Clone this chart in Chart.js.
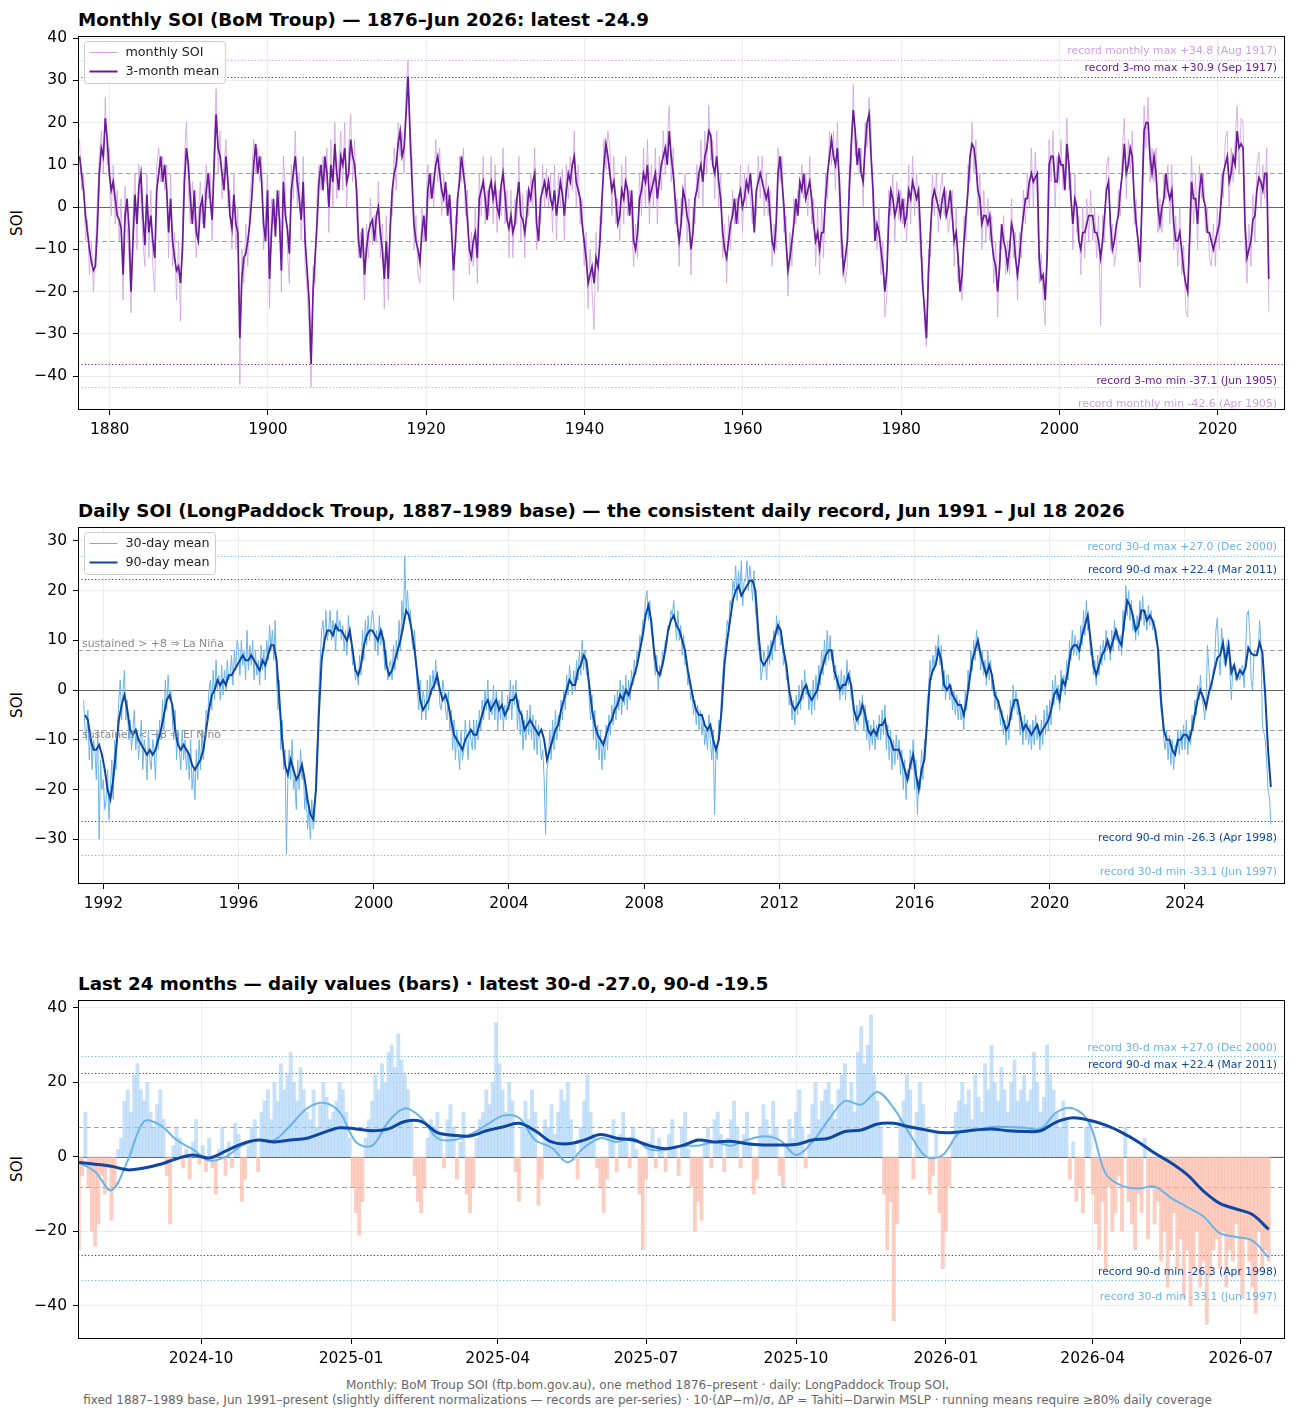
<!DOCTYPE html>
<html>
<head>
<meta charset="utf-8">
<script src="https://cdn.jsdelivr.net/npm/chart.js"></script>
<style>
  body { margin: 0; background: #fff; width: 1295px; height: 1418px; position: relative; overflow: hidden;
         font-family: "DejaVu Sans", sans-serif; }
  canvas { position: absolute; left: 0; }
  .title { position: absolute; left: 78px; font-weight: bold; font-size: 18.3px; line-height: 22px; white-space: nowrap; color: #000; }
  .ylab { position: absolute; left: 17px; font-size: 15px; transform: translate(-50%, -50%) rotate(-90deg); white-space: nowrap; }
  .foot { position: absolute; top: 1378px; left: 0; width: 1295px; text-align: center; font-size: 12px; line-height: 14.5px; color: #666; }
</style>
</head>
<body>
<div class="title" style="top:9px">Monthly SOI (BoM Troup) — 1876–Jun 2026: latest -24.9</div>
<div class="title" style="top:500px">Daily SOI (LongPaddock Troup, 1887–1989 base) — the consistent daily record, Jun 1991 – Jul 18 2026</div>
<div class="title" style="top:973px">Last 24 months — daily values (bars) · latest 30-d -27.0, 90-d -19.5</div>
<div class="ylab" style="top:223px">SOI</div>
<div class="ylab" style="top:705px">SOI</div>
<div class="ylab" style="top:1169px">SOI</div>
<canvas id="c1" width="1295" height="424" style="top:16px"></canvas>
<canvas id="c2" width="1295" height="407" style="top:507px"></canvas>
<canvas id="c3" width="1295" height="389" style="top:980px"></canvas>
<div class="foot">Monthly: BoM Troup SOI (ftp.bom.gov.au), one method 1876–present · daily: LongPaddock Troup SOI,<br>fixed 1887–1989 base, Jun 1991–present (slightly different normalizations — records are per-series) · 10·(ΔP−m)/σ, ΔP = Tahiti−Darwin MSLP · running means require ≥80% daily coverage</div>
<script>
// ---- panel 1: BoM monthly SOI, one value per quarter ----
const P1_START = 1876.2;   // year of first sample
const P1_STEP = 0.25;      // years between samples
const SOI_3MO = [
  12,8,4,-2, -6,-10,-13,-15, -14,-5,8,14, 12,21,16,8,
  4,6,2,-2, -3,-5,-16,-2, 2,-5,-20,-8, 3,-4,5,8, -2,-9,3,-6, -2,-8,-12,4,
  8,12,6,10, 4,-6,2,-8, -12,-15,-14,-18, -10,6,14,10, 2,-4,4,-6,
  -8,0,2,-5, 4,8,2,-3, 10,22,14,12, 8,4,12,6, -2,-5,3,-4,
  -6,-31,-17,-12, -11,-8,-4,2, 10,15,8,12, 6,-4,-8,4,
  -17,-6,2,-7, 4,-3,-15,6, -2,-5,-11,4, 8,12,6,2, -3,6,-8,-15,
  -22,-37.1,-20,-12, -4,6,10,4, 12,8,0,10, 6,15,8,4, 12,10,14,6,
  8,16,12,10, 4,-8,-12,-5, -16,-10,-6,-4, -3,-8,-2,0, -6,-10,-17,-8,
  -17,-5,4,8, 10,15,18,12, 14,22,30.9,18, 6,-4,-8,-10, -13,-6,-2,-8,
  4,8,2,6, 10,12,8,4, 2,6,-2,3, -6,-15,-8,2, 6,12,8,4,
  -3,-10,-12,-8, -6,-12,2,4, 6,2,-3,4, 6,2,5,0, -2,5,8,3,
  -3,-5,-2,-6, -4,2,6,-2, -3,-6,-2,4, 2,6,8,-4, -8,2,4,6,
  3,6,2,0, 4,-2,2,6, 3,-2,4,8, 6,10,12,6, 4,2,-4,-8,
  -12,-18,-16,-14, -18,-12,-14,-8, 2,10,15,12, 8,4,6,2, -4,-2,4,2,
  6,4,-2,4, -8,-10,-6,2, 4,8,6,10, 2,4,6,8, 2,6,10,12,
  14,10,18,12, 8,2,-4,-8, -4,4,2,-2, -4,-10,-6,2, 4,8,10,6,
  12,14,18,17, 10,8,12,6, 2,-6,-10,-12, -8,-4,-2,2, -4,2,4,0,
  2,6,4,8, 2,-6,4,6, 8,6,4,2, 4,-2,-8,-10, -4,8,12,6,
  0,-8,-15,-12, -8,-4,2,-2, 6,4,8,2, 4,6,2,-4, -8,-6,-10,-6,
  -6,2,8,12, 16,12,10,14, 6,-6,-15,-12, -8,4,15,23, 18,10,14,8,
  6,14,20,22, 12,4,-8,-4, -6,-10,-14,-20, -15,-2,4,2, -2,0,3,-2,
  2,-4,-2,4, 2,6,4,2, 4,-6,-18,-24, -31,-16,-6,2, 4,2,0,-2,
  2,4,-2,0, 4,-2,-8,-6, -12,-20,-16,-8, -2,4,12,15, 14,10,4,2,
  -4,-2,-2,-4, -2,-8,-12,-14, -20,-14,-4,-8, -10,-14,-10,-4, -6,-12,-16,-12,
  -6,-2,2,2, 6,8,6,7, 8,-12,-17,-16, -22,-12,10,12, 12,6,6,12,
  10,10,4,15, 10,2,-4,2, 0,-8,-10,-6, -6,-4,-2,-2, -2,-6,-6,-8,
  -12,-8,-2,4, 6,-4,-10,-8, -4,-2,4,8, 15,8,10,14, 12,2,-4,-8,
  -13,2,18,20, 20,12,8,12, 8,0,-4,0, 2,8,4,2, 4,-4,-8,-8,
  -6,-10,-15,-18, -20,-8,6,2, 2,-4,4,8, 2,0,-6,-6, -8,-10,-8,-6,
  -4,2,8,10, 12,6,8,12, 10,18,14,15, 14,-4,-12,-10, -8,-3,-2,4,
  7,6,4,8, 8,-17
];
const SOI_MONTHLY = [
  16,4,8,-8, -3,-16,-8,-20, -10,2,12,18, 8,26,10,14,
  -2,10,-4,4, -8,2,-22,5, -4,-12,-25,-2, 8,-10,10,2, -8,-14,8,-12, 4,-14,-20,10,
  14,6,12,4, 10,-12,8,-14, -6,-22,-8,-27, -4,12,20,4, -4,6,-2,-12,
  -2,6,-4,2, 10,2,8,-8, 16,28,8,18, 2,10,16,0, 4,-10,8,-10,
  0,-42,-10,-18, -4,-14,2,8, 16,8,14,6, 12,-10,-2,8,
  -24,2,-4,0, -2,4,-20,12, 4,-10,-18,10, 2,18,0,8, -8,12,-14,-20,
  -28,-42.6,-14,-18, 2,10,4,12, 6,14,-6,16, 0,20,2,10, 18,4,20,0,
  14,22,6,16, -2,-12,-6,-10, -22,-4,-12,2, -9,-2,-8,6, -12,-4,-24,-2,
  -22,0,-2,14, 4,20,12,18, 8,28,34.8,12, 12,-10,-2,-16, -18,0,-8,-2,
  10,2,8,0, 16,6,14,-2, 8,0,4,-4, 0,-22,-2,-4, 12,6,14,-2,
  4,-16,-6,-14, 0,-18,8,-2, 12,-4,4,-2, 12,-4,10,-6, 4,-2,14,-4,
  4,-12,4,-12, 2,-4,12,-8, 3,-12,4,-2, 8,0,14,-10, -2,-4,10,0,
  9,0,8,-6, 10,-8,8,0, 9,-8,10,2, 12,4,18,0, 10,-4,2,-14,
  -6,-24,-10,-20, -29,-6,-20,-2, -4,16,9,18, 14,-2,12,-4, 2,-8,10,-4,
  12,-2,4,-2, -14,-4,-12,8, -2,14,0,16, -4,10,0,14, -4,12,4,18,
  8,16,24,6, 14,-4,2,-14, 2,-2,8,-8, 2,-16,0,-4, 10,2,16,0,
  18,8,24,11, 16,2,18,0, 8,-12,-4,-18, -2,-10,4,-4, 2,-4,10,-6,
  8,0,10,2, -4,0,-2,12, 2,12,-2,8, -2,4,-14,-4, -10,14,6,12,
  -6,-2,-21,-6, -14,2,-4,4, 0,10,2,8, -2,12,-4,2, -14,0,-16,0,
  -12,8,2,18, 10,18,4,20, 0,-12,-9,-18, -14,10,9,29, 12,16,8,14,
  0,20,14,26, 18,-2,-2,-10, 0,-16,-8,-26, -21,4,-2,8, -8,6,-3,4,
  -4,2,-8,10, -4,12,-2,8, -2,-12,-12,-28, -33,-10,-12,8, -2,8,-6,4,
  8,-2,4,-6, -2,4,-14,0, -18,-14,-22,-2, -8,10,6,20, 8,16,-2,8,
  -10,4,-8,2, -8,-2,-18,-8, -26,-8,-10,-2, -16,-8,-16,2, -12,-6,-22,-6,
  -12,4,-4,8, 0,14,0,13, 2,-18,-11,-22, -28,-6,16,6, 18,0,12,6,
  16,4,10,21, 4,8,-10,8, -6,-2,-16,0, -12,2,-8,4, -8,0,-12,-2,
  -28,-2,-8,10, 12,-10,-4,-14, -10,4,-2,14, 21,2,16,8, 18,-4,2,-14,
  -19,8,24,14, 26,6,14,6, 14,-6,2,-6, 8,2,10,-4, 10,-10,-2,-14,
  0,-16,-9,-24, -26,-2,12,-4, 8,-10,10,2, 8,-6,0,-12, -14,-4,-14,0,
  -10,8,2,16, 18,0,14,6, 16,24,8,21, 20,-10,-18,-4, -14,3,-8,10,
  13,0,10,2, 14,-24.9
];
const P1_XTICKS = [1880, 1900, 1920, 1940, 1960, 1980, 2000, 2020];
const P1_YTICKS = [-40, -30, -20, -10, 0, 10, 20, 30, 40];
const REC_MON_MAX = 34.8, REC_MON_MIN = -42.6, REC_3MO_MAX = 30.9, REC_3MO_MIN = -37.1;

// ---- panel 2: LongPaddock daily SOI running means ----
const D30_START = 1991 + 5 / 12;      // 1 Jun 1991, two samples a month
const D30_STEP = 1 / 24;
const D90_START = 1991 + 5.5 / 12;    // mid Jun 1991, one sample a month
const D90_STEP = 1 / 12;
const SOI_30D = [
  -2,-8,-10,-4,-14,-8,-16,-10,-12,-18,-8,-30,-14,-20,
  -18,-24,-22,-16,-26,-20,-14,-22,-10,-16,-8,-2,2,-6,0,4,-6,-2,-10,-6,-12,-8,-4,-12,
  -8,-14,-10,-6,-16,-10,-12,-18,-8,-14,-16,-10,-12,-18,-8,-12,-6,-10,-2,-8,2,-4,3,-2,
  0,-6,-10,-4,-14,-8,-12,-16,-8,-14,-10,-16,-12,-18,-10,-20,-16,-22,-12,-18,-10,-16,-8,-14,
  -10,-4,-6,0,2,-4,4,-2,6,0,3,-2,5,-1,4,0,6,2,3,7,1,8,4,10,
  8,3,10,5,8,2,12,4,9,5,10,2,8,3,6,1,9,4,8,2,10,6,13,8,
  12,6,14,2,-4,2,-12,-6,-16,-12,-33,-18,-12,-18,-10,-20,-18,-24,-14,-20,-12,-18,-16,-24,
  -20,-28,-24,-30,-22,-28,-26,-16,-10,0,6,12,14,8,16,10,12,16,10,14,12,8,16,12,
  14,10,13,8,12,7,15,10,10,5,6,2,4,1,7,3,12,6,14,9,15,10,13,16,
  14,8,12,7,15,9,12,8,4,8,2,5,6,2,9,4,10,6,14,8,18,12,27,16,
  20,14,16,10,8,12,6,0,-4,2,-6,0,-2,-6,2,-4,3,-1,4,0,6,1,2,-3,
  -4,2,0,-4,-6,0,-8,-4,-12,-6,-14,-8,-12,-16,-8,-14,-12,-6,-10,-14,-6,-10,-12,-6,
  -12,-6,-10,-4,-8,-2,-6,0,-4,2,-6,-2,-5,1,-6,0,-8,-2,-6,0,-8,-3,-6,-1,
  -4,2,-6,1,-3,2,-8,-2,-9,-4,-12,-6,-10,-4,-9,-3,-10,-5,-12,-6,-13,-7,-10,-14,
  -12,-18,-29,-16,-14,-8,-14,-6,-12,-4,-10,-5,-8,-2,-6,0,-4,3,-1,5,2,-1,4,0,
  6,2,8,3,10,4,8,3,4,-2,-6,-1,-10,-4,-12,-7,-14,-8,-16,-10,-14,-7,-12,-5,
  -9,-3,-7,-1,-6,0,-4,2,-5,1,-3,3,-4,2,-2,4,1,6,3,8,6,11,9,14,
  14,18,20,14,18,12,10,6,3,7,0,5,3,8,6,10,9,13,12,16,15,18,14,10,
  16,10,13,7,11,5,6,1,3,-2,0,-5,-2,-7,-3,-8,-4,-9,-6,-11,-8,-12,-5,-10,
  -14,-8,-25,-12,-14,-6,-8,0,4,8,10,14,12,18,16,22,20,25,18,24,20,26,17,22,
  22,26,20,25,22,18,24,16,14,8,8,2,4,8,6,2,9,5,10,6,12,8,15,11,
  14,9,10,5,7,2,3,-3,-1,-6,-2,-7,-1,-5,1,-4,2,-2,4,-1,1,-4,0,-5,
  2,-4,3,-2,5,1,8,3,10,5,12,6,11,6,8,2,5,0,3,-2,4,-1,3,-2,
  6,1,4,-2,-2,-7,-8,-3,-7,-2,-5,-1,-8,-3,-10,-6,-12,-7,-11,-6,-12,-7,-10,-5,
  -10,-4,-9,-3,-12,-7,-14,-8,-16,-10,-15,-9,-14,-10,-17,-12,-20,-14,-22,-16,-18,-12,-16,-10,
  -20,-14,-25,-18,-20,-12,-18,-10,-10,-2,0,6,2,7,4,9,7,11,5,9,0,4,-2,3,
  3,-2,1,-4,0,-5,-1,-6,-2,-6,-4,-8,0,-4,4,0,8,4,10,6,12,8,9,4,
  8,3,6,1,8,2,6,0,2,-4,0,-4,-2,-7,-4,-9,-6,-11,-5,-10,-2,-6,1,-4,
  0,-5,-4,-9,-6,-11,-5,-10,-6,-11,-7,-12,-6,-11,-5,-10,-7,-12,-6,-11,-4,-9,-3,-8,
  -2,-7,2,-3,3,-2,1,-4,4,0,3,-1,6,2,10,6,12,7,11,7,10,6,13,9,
  16,11,18,12,13,7,8,3,6,1,7,3,9,5,10,6,12,8,10,6,12,8,14,10,
  12,8,11,7,16,12,21,15,20,14,18,12,14,10,15,11,18,14,19,13,16,12,17,13,
  16,12,14,10,10,5,0,-4,-6,-10,-12,-8,-14,-9,-15,-10,-16,-11,-12,-8,-13,-8,-12,-7,
  -12,-6,-13,-8,-11,-5,-8,-2,-5,1,-2,3,-1.5,-3,-6,-2,9,4.5,0,0,4,5,12,14.5,
  7,3,12.5,9,5,6,10,10,3,-2,5,5,2,2.5,3,2,4.5,5,0.5,7,15,16,12,2,
  0,7,8,7.8,7.5,14,9,-7,-8.5,-10,-14,-20,-21.5,-27
];
const SOI_90D = [
  -5,-6,-10,-12,-12,-11,-13,
  -16,-20,-22,-18,-12,-6,-3,-1,-4,-8,-9,-8,
  -10,-11,-12,-13,-12,-13,-12,-10,-8,-5,-2,-1,
  -3,-8,-11,-12,-11,-12,-13,-15,-16,-15,-14,-12,
  -8,-4,-1,0,2,1,2,1,3,3,4,5,
  6,7,6,6,7,6,5,4,6,5,7,9,
  9,6,-2,-10,-15,-17,-14,-16,-18,-17,-15,-18,
  -22,-25,-26,-20,-5,6,10,12,12,11,13,12,
  12,11,10,12,8,4,3,5,9,11,12,12,
  11,10,12,10,5,3,4,6,8,10,13,16,
  15,12,8,3,-2,-4,-3,-2,0,1,3,0,
  -2,-1,-3,-6,-9,-10,-11,-12,-10,-9,-8,-9,
  -9,-7,-5,-3,-2,-4,-3,-2,-4,-3,-5,-4,
  -2,-2,-1,-4,-5,-8,-7,-6,-7,-8,-9,-8,
  -10,-14,-12,-10,-8,-7,-4,-2,0,2,1,1,
  4,5,7,6,1,-4,-7,-9,-10,-11,-9,-7,
  -6,-4,-3,-1,-2,0,-1,1,3,5,8,11,
  15,17,14,8,4,3,5,8,12,14,15,13,
  12,10,8,4,1,-2,-4,-5,-5,-7,-8,-7,
  -10,-12,-10,-4,5,10,14,18,20,21,19,20,
  21,22,22,20,12,6,5,6,7,9,11,13,
  12,8,5,0,-3,-4,-3,-2,0,1,-1,-2,
  -1,0,3,5,7,8,8,4,2,0,1,1,
  3,1,-4,-6,-5,-3,-5,-8,-9,-8,-9,-7,
  -7,-6,-9,-10,-12,-12,-12,-14,-16,-18,-15,-13,
  -17,-20,-16,-14,-6,2,4,5,8,6,1,0,
  1,-1,-2,-3,-3,-5,-2,2,6,8,10,7,
  5,3,5,3,-1,-2,-4,-6,-8,-7,-4,-2,
  -2,-5,-8,-7,-8,-9,-8,-7,-9,-8,-7,-6,
  -4,-1,0,-2,2,1,4,8,9,9,8,11,
  13,15,10,5,3,5,7,8,10,8,10,12,
  10,9,14,18,17,15,12,13,16,16,14,15,
  14,12,8,-2,-8,-10,-10,-12,-13,-10,-10,-9,
  -9,-10,-8,-5,-2,0,-1.5,-3.5,-0.5,1.5,4,6.5,
  7,9.5,5.6,9,3.5,5,2.4,4,3.2,4.5,8.5,7.4,
  7,7,9.5,7.5,-1,-12,-19.5
];
const P2_XTICKS = [1992, 1996, 2000, 2004, 2008, 2012, 2016, 2020, 2024];
const P2_YTICKS = [-30, -20, -10, 0, 10, 20, 30];
const REC_30D_MAX = 27.0, REC_30D_MIN = -33.1, REC_90D_MAX = 22.4, REC_90D_MIN = -26.3;

// ---- panel 3: last 24 months, daily values every 2nd day, means every 10 days ----
const P3_START = '2024-07-18';
const P3_BAR_STEP = 2;     // days
const P3_LINE_STEP = 10;   // days
const DAILY_BARS = [
  -25,-5,12,-8,-20,-24,-18,-5,-10,-3, -17,-8,2,5,15,18,12,22,25,18,
  15,20,12,8,14,18,10,-5,-18,3, 8,5,-3,2,-6,4,10,-2,3,-4,
  5,-3,-10,2,8,-5,4,-3,9,6, -12,-6,3,8,10,-4,12,15,18,10,
  20,15,25,18,22,28,20,15,24,18, 12,10,18,8,14,20,16,10,12,15,
  20,18,12,5,-8,-15,-21,-12,5,10, 15,22,18,25,20,28,30,24,33,26,
  22,18,10,-5,-12,-15,-8,5,10,8, 12,6,-3,10,14,8,-6,4,12,-10,
  -15,-8,5,10,12,18,14,20,36,25, 18,12,20,15,-4,-12,8,15,10,18,
  12,-13,-6,10,8,14,6,12,18,15, 20,10,4,-6,8,15,22,12,6,-3,
  -8,-15,-6,5,10,-4,6,12,4,-3, 8,2,-10,-25,-6,4,8,-3,5,2,
  -4,6,10,3,-5,8,12,2,-8,-20, -12,-17,4,8,-3,10,12,6,-4,5,
  10,15,8,-3,6,12,4,-10,-6,8, 14,10,6,15,8,-5,-8,3,10,5,
  12,18,8,-3,6,14,20,10,15,18, 20,14,10,18,22,25,15,20,12,28,
  35,25,30,38,22,15,8,-10,-25,-12, -44,-18,10,15,22,18,-6,12,20,14,
  8,-10,-5,6,-15,-30,-20,-8,4,12, 15,20,14,18,10,22,16,12,25,18,
  30,20,15,24,18,12,20,26,15,18, 22,15,18,28,20,12,16,30,22,18,
  12,8,15,10,-6,4,-12,-8,-15,8, 10,-10,-18,-25,-12,-30,-8,-20,-15,-5,
  -20,8,-12,-18,-25,-10,-15,5,-22,-8, -18,-12,-28,-20,-35,-25,-15,-30,-22,-38,
  -25,-40,-30,-20,-35,-28,-45,-32,-25,-22, -30,-20,-35,-25,-28,-18,-32,-38,-22,-28,
  -35,-42,-20,-30,-25,-28
];
const P3_30D = [
  -1.5,-4,-9,-1,9.5,8.5,4.5,2,-1,0, 3,4.5,4.5,8.5,13,14.5,12,4,3,9.5,
  13,10.5,5,4.5,6,8.5,11,10.5,4.5,2.5, -1.5,2.5,5,4,5,2,2,3,3,4,
  3,4.5,5.5,4.5,0.5,4,10,15,14,17.4, 13,6,0,0.5,6.4,7.2,8,8,7.8,7.5,
  12,13,9,-4.5,-7.8,-8.5,-8,-11,-13.5,-16, -20.5,-21.5,-22.5,-27
];
const P3_90D = [
  -1.5,-2,-2.5,-3.5,-3,-2,-0.5,0.5,-0.3,1.5, 3.5,4.5,4,4.5,5,6.5,7.8,7.5,7,7.5,
  9.5,9.5,6.5,5.8,5.6,7,8,9,7,4, 3.5,4.5,6,5,4.5,3,2.2,3,4.5,4,
  4.2,3.5,3.2,3.2,3.3,4.5,5,6.8,7.2,8.8, 9,8,7.2,6.5,6.7,7.2,7.5,7,6.8,7,
  9.4,10.5,9.8,8.5,6.5,4,1,-1.6,-4.8,-9.2, -12.5,-14,-15.5,-19.5
];
const P3_XTICKS = ['2024-10', '2025-01', '2025-04', '2025-07', '2025-10', '2026-01', '2026-04', '2026-07'];
const P3_YTICKS = [-40, -20, 0, 20, 40];
const P3_END = '2026-07-28';

// ---- styling ----
const FONT = '"DejaVu Sans", sans-serif';
const GRID = '#ececec';
const PURPLE = '#6a1b9a', LILAC = '#cf9fe0';
const NAVY = '#0d47a1', SKY = '#6ab3ea';

const fmt = v => (v < 0 ? '\u2212' + Math.abs(v) : String(v));
const series = (vals, t0, dt) => vals.map((v, i) => ({ x: t0 + i * dt, y: v }));
const DAY = 86400000;
const dayOf = s => (Date.parse(s) - Date.parse(P3_START)) / DAY;

function scales(o) {
  const tickFont = { size: 15.5, family: FONT };
  return {
    x: {
      type: 'linear', min: o.xmin, max: o.xmax, offset: false,
      afterBuildTicks: s => { s.ticks = o.xticks.map(v => ({ value: v })); },
      afterFit: s => { s.height = 30; },
      grid: { color: GRID, tickColor: '#000', tickLength: 5, offset: false },
      border: { display: false },
      ticks: { autoSkip: false, maxRotation: 0, padding: 6, color: '#000', font: tickFont,
               callback: o.xlabel || (v => String(v)) }
    },
    y: {
      min: o.ymin, max: o.ymax,
      afterBuildTicks: s => { s.ticks = o.yticks.map(v => ({ value: v })); },
      afterFit: s => { s.width = 78; },
      grid: { color: GRID, tickColor: '#000', tickLength: 5 },
      border: { display: false },
      ticks: { padding: 6, color: '#000', font: tickFont, callback: v => fmt(v) }
    }
  };
}

function hline(ctx, a, y, color, width, dash) {
  ctx.strokeStyle = color; ctx.lineWidth = width; ctx.setLineDash(dash);
  ctx.beginPath(); ctx.moveTo(a.left, y); ctx.lineTo(a.right, y); ctx.stroke();
}

// reference lines, record lines + labels, legend, frame
function decor(cfg) {
  return {
    id: 'decor',
    beforeDatasetsDraw(chart) {
      const { ctx, chartArea: a, scales: { y } } = chart;
      ctx.save();
      ctx.beginPath(); ctx.rect(a.left, a.top, a.width, a.height); ctx.clip();
      [8, -8].forEach(v => hline(ctx, a, Math.round(y.getPixelForValue(v)) + 0.5, '#a0a0a0', 1, [5, 3]));
      hline(ctx, a, Math.round(y.getPixelForValue(0)) + 0.5, '#666', 1, []);
      cfg.records.forEach(r => hline(ctx, a, Math.round(y.getPixelForValue(r.v)) + 0.5, r.color, 1.2, [1.2, 2.2]));
      ctx.restore();
    },
    afterDraw(chart) {
      const { ctx, chartArea: a, scales: { y } } = chart;
      ctx.save();
      ctx.setLineDash([]);
      ctx.font = '10.8px ' + FONT;
      ctx.textAlign = 'right';
      cfg.records.forEach(r => {
        const py = y.getPixelForValue(r.v);
        ctx.fillStyle = r.color;
        if (r.v > 0) { ctx.textBaseline = 'bottom'; ctx.fillText(r.text, a.right - 8, py - 3); }
        else { ctx.textBaseline = 'top'; ctx.fillText(r.text, a.right - 8, py + 12); }
      });
      if (cfg.notes) {
        ctx.font = '10.9px ' + FONT;
        ctx.fillStyle = '#888';
        ctx.textAlign = 'left';
        ctx.textBaseline = 'bottom';
        ctx.fillText(cfg.notes[0], a.left + 4, y.getPixelForValue(8) - 1);
        ctx.textBaseline = 'middle';
        ctx.fillText(cfg.notes[1], a.left + 4, y.getPixelForValue(-8) + 5);
      }
      if (cfg.legend) {
        ctx.font = '12.7px ' + FONT;
        const tw = Math.max(...cfg.legend.map(it => ctx.measureText(it.label).width));
        const x = a.left + 6.5, t = a.top + 5.5, w = 41 + tw + 6, h = 42, r = 3;
        ctx.beginPath();
        ctx.moveTo(x + r, t); ctx.arcTo(x + w, t, x + w, t + h, r); ctx.arcTo(x + w, t + h, x, t + h, r);
        ctx.arcTo(x, t + h, x, t, r); ctx.arcTo(x, t, x + w, t, r); ctx.closePath();
        ctx.fillStyle = 'rgba(255,255,255,0.85)'; ctx.fill();
        ctx.strokeStyle = '#cccccc'; ctx.lineWidth = 1; ctx.stroke();
        ctx.textAlign = 'left'; ctx.textBaseline = 'middle';
        cfg.legend.forEach((it, i) => {
          const yy = t + 11 + i * 19;
          ctx.strokeStyle = it.color; ctx.lineWidth = it.width;
          ctx.beginPath(); ctx.moveTo(x + 5, yy); ctx.lineTo(x + 33, yy); ctx.stroke();
          ctx.fillStyle = '#222'; ctx.fillText(it.label, x + 41, yy);
        });
      }
      ctx.strokeStyle = '#000'; ctx.lineWidth = 1;
      ctx.strokeRect(Math.round(a.left) + 0.5, Math.round(a.top) + 0.5, Math.round(a.width) - 1, Math.round(a.height) - 1);
      ctx.restore();
    }
  };
}

const baseOptions = sc => ({
  responsive: false, animation: false, devicePixelRatio: 1, events: [],
  layout: { padding: { left: 0, right: 10, top: 20, bottom: 0 } },
  plugins: { legend: { display: false }, tooltip: { enabled: false } },
  elements: { point: { radius: 0 }, line: { tension: 0 } },
  scales: sc
});

// ---- panel 1 ----
new Chart(document.getElementById('c1'), {
  type: 'line',
  data: {
    datasets: [
      { data: series(SOI_3MO, P1_START, P1_STEP), borderColor: PURPLE, borderWidth: 1.7, order: 1 },
      { data: series(SOI_MONTHLY, P1_START, P1_STEP), borderColor: LILAC, borderWidth: 0.8, order: 2 }
    ]
  },
  options: baseOptions(scales({ xmin: 1876, xmax: 2028.5, xticks: P1_XTICKS, ymin: -48, ymax: 40.5, yticks: P1_YTICKS })),
  plugins: [decor({
    records: [
      { v: REC_MON_MAX, color: LILAC, text: 'record monthly max +34.8 (Aug 1917)' },
      { v: REC_3MO_MAX, color: PURPLE, text: 'record 3-mo max +30.9 (Sep 1917)' },
      { v: REC_3MO_MIN, color: PURPLE, text: 'record 3-mo min -37.1 (Jun 1905)' },
      { v: REC_MON_MIN, color: LILAC, text: 'record monthly min -42.6 (Apr 1905)' }
    ],
    legend: [
      { label: 'monthly SOI', color: LILAC, width: 1 },
      { label: '3-month mean', color: PURPLE, width: 2 }
    ]
  })]
});

// ---- panel 2 ----
new Chart(document.getElementById('c2'), {
  type: 'line',
  data: {
    datasets: [
      { data: series(SOI_90D, D90_START, D90_STEP), borderColor: NAVY, borderWidth: 2, order: 1 },
      { data: series(SOI_30D, D30_START, D30_STEP), borderColor: SKY, borderWidth: 1, order: 2 }
    ]
  },
  options: baseOptions(scales({ xmin: 1991.25, xmax: 2026.96, xticks: P2_XTICKS, ymin: -39, ymax: 32.8, yticks: P2_YTICKS })),
  plugins: [decor({
    records: [
      { v: REC_30D_MAX, color: SKY, text: 'record 30-d max +27.0 (Dec 2000)' },
      { v: REC_90D_MAX, color: NAVY, text: 'record 90-d max +22.4 (Mar 2011)' },
      { v: REC_90D_MIN, color: NAVY, text: 'record 90-d min -26.3 (Apr 1998)' },
      { v: REC_30D_MIN, color: SKY, text: 'record 30-d min -33.1 (Jun 1997)' }
    ],
    notes: ['sustained > +8 \u21d2 La Niña', 'sustained < \u22128 \u21d2 El Niño'],
    legend: [
      { label: '30-day mean', color: SKY, width: 1 },
      { label: '90-day mean', color: NAVY, width: 2 }
    ]
  })]
});

// ---- panel 3 ----
const p3TickDays = P3_XTICKS.map(s => dayOf(s + '-01'));
new Chart(document.getElementById('c3'), {
  type: 'bar',
  data: {
    datasets: [
      { type: 'line', data: series(P3_90D, 0, P3_LINE_STEP), borderColor: NAVY, borderWidth: 3, tension: 0.35, order: 1 },
      { type: 'line', data: series(P3_30D, 0, P3_LINE_STEP), borderColor: SKY, borderWidth: 2, tension: 0.35, order: 2 },
      { type: 'bar', data: series(DAILY_BARS, 0, P3_BAR_STEP), order: 3,
        backgroundColor: c => (c.raw && c.raw.y < 0 ? 'rgba(250,180,160,0.65)' : 'rgba(160,205,245,0.6)'),
        borderWidth: 0, barPercentage: 1, categoryPercentage: 1 }
    ]
  },
  options: baseOptions(scales({
    xmin: -0.5, xmax: dayOf(P3_END), xticks: p3TickDays, ymin: -48.9, ymax: 42.1, yticks: P3_YTICKS,
    xlabel: (v, i) => P3_XTICKS[i]
  })),
  plugins: [decor({
    records: [
      { v: REC_30D_MAX, color: SKY, text: 'record 30-d max +27.0 (Dec 2000)' },
      { v: REC_90D_MAX, color: NAVY, text: 'record 90-d max +22.4 (Mar 2011)' },
      { v: REC_90D_MIN, color: NAVY, text: 'record 90-d min -26.3 (Apr 1998)' },
      { v: REC_30D_MIN, color: SKY, text: 'record 30-d min -33.1 (Jun 1997)' }
    ]
  })]
});
</script>
</body>
</html>
